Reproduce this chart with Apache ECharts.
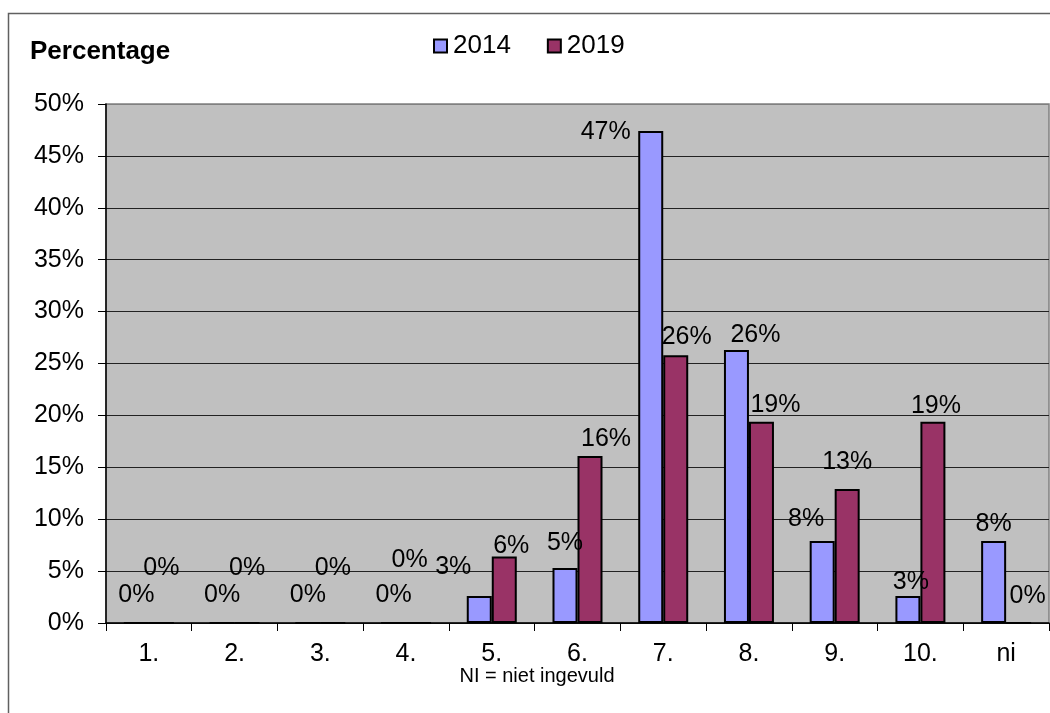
<!DOCTYPE html>
<html>
<head>
<meta charset="utf-8">
<script src="https://cdn.jsdelivr.net/npm/echarts@6/dist/echarts.min.js"></script>
<style>
html,body{margin:0;padding:0;background:#fff;}
#chart{width:1050px;height:713px;}
</style>
</head>
<body>
<div id="chart"></div>
<script>
const categories = ['1.', '2.', '3.', '4.', '5.', '6.', '7.', '8.', '9.', '10.', 'ni'];
const seriesNames = ['2014', '2019'];
const values2014 = [0, 0, 0, 0, 2.6, 5.3, 47.4, 26.3, 7.9, 2.6, 7.9];
const values2019 = [0, 0, 0, 0, 6.4, 16.1, 25.8, 19.4, 12.9, 19.4, 0];
const yTicks = [0, 5, 10, 15, 20, 25, 30, 35, 40, 45, 50];
const yTitle = 'Percentage';
const footNote = 'NI = niet ingevuld';

// label nudges (style only) mimicking the original label placement
const nudge2014 = [[0,-9],[0,-9],[0,-9],[0,-9],[-26,-11],[0,-7],[-45,19],[19,3],[-16,-4],[3,4],[0,1]];
const nudge2019 = [[0,-36],[0,-36],[0,-36],[-9,-44],[7,7],[16,1],[11,-1],[14,1],[0,-9],[3,2],[9,-8]];

const FONT = "'Liberation Sans', Arial, sans-serif";
const FS = 25;
const colors = ['#9999FF', '#993366'];

function buildData(vals, nudges) {
  return vals.map((v, i) => ({
    value: v,
    label: { offset: nudges[i] }
  }));
}

const gridLineColors = yTicks.map((t, i) => i === yTicks.length - 1 ? '#808080' : '#222');

const chart = echarts.init(document.getElementById('chart'), null, { renderer: 'canvas' });
chart.setOption({
  animation: false,
  backgroundColor: '#fff',
  textStyle: { fontFamily: FONT },
  title: {
    text: yTitle,
    left: 30,
    top: 39,
    padding: 0,
    textStyle: { fontFamily: FONT, fontSize: 26, fontWeight: 'bold', color: '#000' }
  },
  legend: {
    data: seriesNames,
    left: 433,
    top: 33,
    padding: 0,
    itemWidth: 13,
    itemHeight: 13,
    itemGap: 36,
    icon: 'rect',
    textStyle: { fontFamily: FONT, fontSize: 26, color: '#000', padding: [0,0,0,1] }
  },
  grid: {
    left: 106,
    right: 1,
    top: 104,
    bottom: 90,
    show: true,
    backgroundColor: '#C0C0C0',
    borderColor: '#808080',
    borderWidth: 1.5
  },
  xAxis: {
    type: 'category',
    data: categories,
    axisLine: { show: true, lineStyle: { color: '#000', width: 1.5 } },
    axisTick: { show: true, length: 8, lineStyle: { color: '#000' } },
    axisLabel: { margin: 19, fontSize: FS, color: '#000', fontFamily: FONT },
    splitLine: { show: false }
  },
  yAxis: {
    type: 'value',
    min: yTicks[0],
    max: yTicks[yTicks.length - 1],
    interval: yTicks[1] - yTicks[0],
    axisLine: { show: true, lineStyle: { color: '#000', width: 1.5 } },
    axisTick: { show: true, length: 8, lineStyle: { color: '#000' } },
    axisLabel: { margin: 22, fontSize: FS, color: '#000', fontFamily: FONT, formatter: '{value}%' },
    splitLine: { show: true, lineStyle: { color: gridLineColors, width: 1.2 } }
  },
  series: [
    {
      name: seriesNames[0],
      type: 'bar',
      data: buildData(values2014, nudge2014),
      barWidth: 25,
      barGap: '0%',
      itemStyle: { color: colors[0], borderColor: '#000', borderWidth: 2 },
      label: {
        show: true, position: 'top', distance: 5,
        fontSize: FS, color: '#000', fontFamily: FONT,
        formatter: p => Math.round(p.value) + '%'
      }
    },
    {
      name: seriesNames[1],
      type: 'bar',
      data: buildData(values2019, nudge2019),
      barWidth: 25,
      barGap: '0%',
      itemStyle: { color: colors[1], borderColor: '#000', borderWidth: 2 },
      label: {
        show: true, position: 'top', distance: 5,
        fontSize: FS, color: '#000', fontFamily: FONT,
        formatter: p => Math.round(p.value) + '%'
      }
    }
  ],
  graphic: [
    {
      type: 'rect',
      silent: true,
      z: -10,
      shape: { x: 8.5, y: 13.5, width: 1100, height: 800 },
      style: { fill: 'none', stroke: '#606060', lineWidth: 1.5 }
    },
    {
      type: 'text',
      silent: true,
      x: 537,
      y: 676,
      style: {
        text: footNote,
        fontFamily: FONT,
        fontSize: 20,
        fill: '#000',
        textAlign: 'center',
        textVerticalAlign: 'middle'
      }
    }
  ]
});
</script>
</body>
</html>
